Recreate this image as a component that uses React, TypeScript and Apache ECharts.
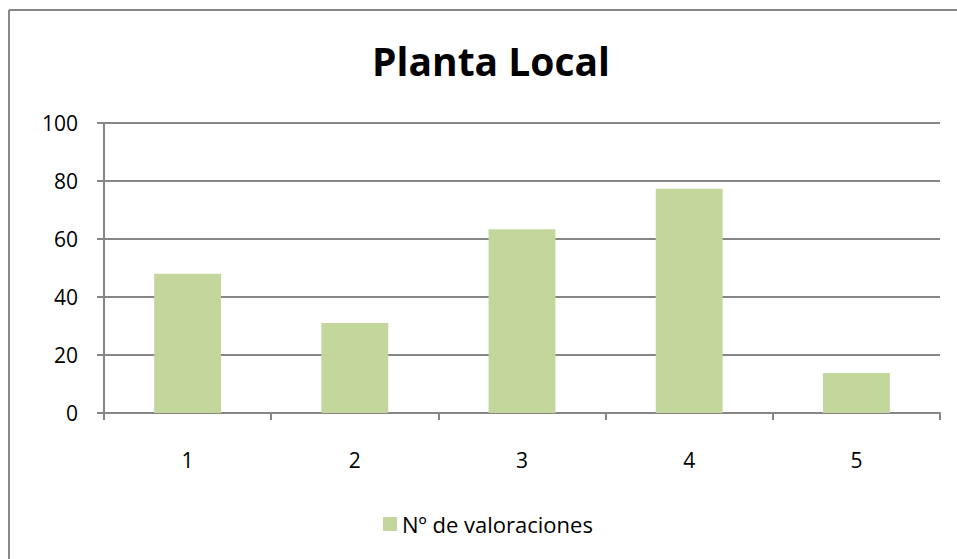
import React, { useEffect, useRef } from "react";
import * as echarts from "echarts";

const categories = ["1", "2", "3", "4", "5"];
const valoraciones = [48, 31, 63.4, 77.3, 13.8];
const seriesName = "Nº de valoraciones";
const titleText = "Planta Local";

export default function App() {
  const ref = useRef<HTMLDivElement>(null);
  useEffect(() => {
    if (!ref.current) return;
    const chart = echarts.init(ref.current, undefined, { renderer: "svg" });
    const font = "'Open Sans', 'Liberation Sans', sans-serif";
    chart.setOption({
      animation: false,
      backgroundColor: "#ffffff",
      title: {
        text: titleText,
        left: 486,
        textAlign: "center",
        top: 36,
        textStyle: { fontFamily: font, fontWeight: "bold", fontSize: 39, color: "#000" },
      },
      legend: {
        bottom: 19,
        left: 378,
        orient: "horizontal",
        itemWidth: 14,
        itemHeight: 14,
        itemGap: 6,
        icon: "rect",
        textStyle: { fontFamily: font, fontSize: 22, color: "#000", padding: [0, 0, 0, 0] },
        data: [seriesName],
      },
      graphic: [
        { type: "line", shape: { x1: 9, y1: 10, x2: 957, y2: 10 }, style: { stroke: "#878787", lineWidth: 2 } },
        { type: "line", shape: { x1: 9, y1: 10, x2: 9, y2: 559 }, style: { stroke: "#878787", lineWidth: 2 } },
      ],
      grid: { left: 104, right: 17, top: 123, bottom: 146, containLabel: false },
      xAxis: {
        type: "category",
        data: categories,
        axisLine: { lineStyle: { color: "#868686", width: 2 } },
        axisTick: { show: true, length: 7, lineStyle: { color: "#868686", width: 2 } },
        axisLabel: { margin: 36, fontFamily: font, fontSize: 21, color: "#000" },
      },
      yAxis: {
        type: "value",
        min: 0,
        max: 100,
        interval: 20,
        axisLine: { show: true, lineStyle: { color: "#868686", width: 2 } },
        axisTick: { show: true, length: 7, lineStyle: { color: "#868686", width: 2 } },
        splitLine: { lineStyle: { color: "#868686", width: 2 } },
        axisLabel: { margin: 26, fontFamily: font, fontSize: 21, color: "#000" },
      },
      series: [
        {
          name: seriesName,
          type: "bar",
          data: valoraciones,
          barWidth: "40%",
          itemStyle: { color: "#C3D69B" },
        },
      ],
    });
    return () => chart.dispose();
  }, []);
  return (
    <div
      ref={ref}
      style={{ position: "absolute", left: 0, top: 0, width: 957, height: 559 }}
    />
  );
}
